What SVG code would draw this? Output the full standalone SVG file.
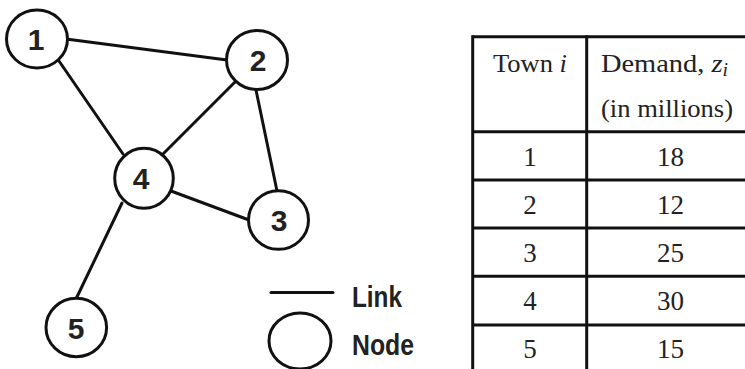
<svg xmlns="http://www.w3.org/2000/svg" width="745" height="369" viewBox="0 0 745 369">
<style>
.bg{fill:#fff}
.lnk{stroke:#111;stroke-width:3;stroke-linecap:round;fill:none}
.nd{fill:#fff;stroke:#111;stroke-width:3}
.nl{font-family:"Liberation Sans",Arial,sans-serif;font-weight:bold;font-size:30px;fill:#222;text-anchor:middle}
.lg{font-family:"Liberation Sans",Arial,sans-serif;font-weight:bold;font-size:30px;fill:#222}
.tb{stroke:#111;stroke-width:3;fill:none}
.tt{font-family:"Liberation Serif","Times New Roman",serif;font-size:26px;fill:#222}
.tc{text-anchor:middle;font-size:27px}
</style>
<rect class="bg" x="0" y="0" width="745" height="369"/>
<g id="connectors">
  <line class="lnk" x1="66" y1="39" x2="227" y2="60"/>
  <line class="lnk" x1="59" y1="61" x2="123" y2="154"/>
  <line class="lnk" x1="236" y1="81" x2="163" y2="154"/>
  <line class="lnk" x1="256" y1="90" x2="277" y2="191"/>
  <line class="lnk" x1="171" y1="191" x2="249" y2="220"/>
  <line class="lnk" x1="122" y1="203" x2="76" y2="299"/>
</g>
<g id="node1"><ellipse class="nd" cx="37" cy="39" rx="30.5" ry="29"/><text class="nl" x="36" y="50">1</text></g>
<g id="node2"><ellipse class="nd" cx="257" cy="60" rx="30.5" ry="29.5"/><text class="nl" x="258" y="71">2</text></g>
<g id="node3"><ellipse class="nd" cx="278.5" cy="220" rx="30" ry="29.3"/><text class="nl" x="279" y="231">3</text></g>
<g id="node4"><ellipse class="nd" cx="144" cy="178.3" rx="29.3" ry="30"/><text class="nl" x="141" y="189">4</text></g>
<g id="node5"><ellipse class="nd" cx="76.3" cy="327.5" rx="30.3" ry="29.2"/><text class="nl" x="76" y="338.5">5</text></g>
<g id="legend">
  <line class="lnk" x1="271" y1="292.5" x2="333" y2="292.5" stroke-linecap="butt"/>
  <text class="lg" x="352" y="306.5" textLength="50" lengthAdjust="spacingAndGlyphs">Link</text>
  <ellipse class="nd" cx="300" cy="341" rx="31" ry="28"/>
  <text class="lg" x="352" y="355" textLength="62" lengthAdjust="spacingAndGlyphs">Node</text>
</g>
<g id="table">
  <line class="tb" x1="472.7" y1="36.7" x2="745" y2="36.7"/>
  <line class="tb" x1="472.7" y1="35.2" x2="472.7" y2="369"/>
  <line class="tb" x1="586.7" y1="35.2" x2="586.7" y2="369"/>
  <line class="tb" x1="472.7" y1="131.7" x2="745" y2="131.7"/>
  <line class="tb" x1="472.7" y1="180" x2="745" y2="180"/>
  <line class="tb" x1="472.7" y1="228" x2="745" y2="228"/>
  <line class="tb" x1="472.7" y1="276.3" x2="745" y2="276.3"/>
  <line class="tb" x1="472.7" y1="325" x2="745" y2="325"/>
  <text class="tt" x="493" y="71.5" textLength="74" lengthAdjust="spacingAndGlyphs">Town <tspan font-style="italic">i</tspan></text>
  <text class="tt" x="601" y="71.5" textLength="127" lengthAdjust="spacingAndGlyphs">Demand, <tspan font-style="italic">z</tspan><tspan font-style="italic" font-size="18" dy="4">i</tspan></text>
  <text class="tt" x="601" y="116.5" textLength="132" lengthAdjust="spacingAndGlyphs">(in millions)</text>
  <text class="tt tc" x="530" y="165.7">1</text>
  <text class="tt tc" x="670.5" y="165.7">18</text>
  <text class="tt tc" x="530" y="213.5">2</text>
  <text class="tt tc" x="670.5" y="213.5">12</text>
  <text class="tt tc" x="530" y="261.7">3</text>
  <text class="tt tc" x="670.5" y="261.7">25</text>
  <text class="tt tc" x="530" y="310">4</text>
  <text class="tt tc" x="670.5" y="310">30</text>
  <text class="tt tc" x="530" y="358.3">5</text>
  <text class="tt tc" x="670.5" y="358.3">15</text>
</g>
</svg>
